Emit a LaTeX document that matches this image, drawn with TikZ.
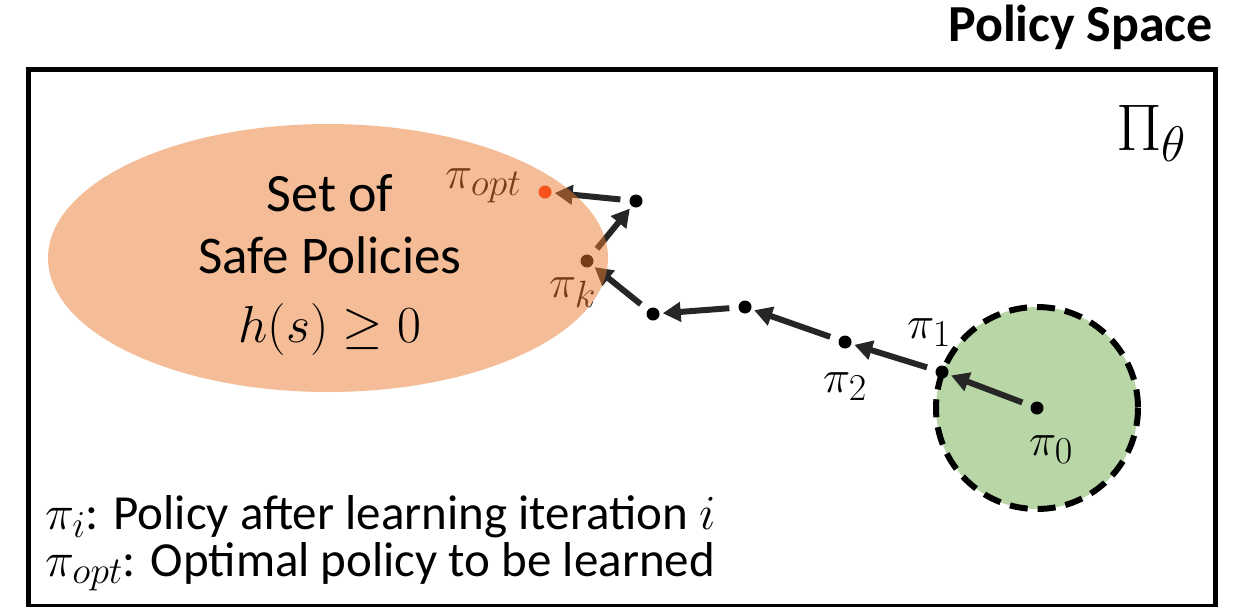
\RequirePackage{fix-cm}
\documentclass[tikz,border=0pt]{standalone}
\usepackage{fontspec}
\setmainfont{Carlito}
\usetikzlibrary{arrows.meta}
\DeclareMathSizes{46}{46}{38}{28}
\DeclareMathSizes{49}{49}{38}{30}
\DeclareMathSizes{52}{52}{40}{31}
\DeclareMathSizes{66}{66}{50}{38}
\definecolor{safeor}{RGB}{237,125,49}
\definecolor{regreen}{RGB}{184,214,166}
\definecolor{arrgray}{RGB}{38,38,38}
\definecolor{optred}{RGB}{255,40,10}
\begin{document}
\begin{tikzpicture}[x=1pt,y=-1pt,
  dot/.style={circle,fill=black,inner sep=0pt,minimum size=13pt},
  arr/.style={draw=arrgray,line width=6pt,-{Triangle[length=18pt,width=19pt]},shorten <=9pt,shorten >=3pt},
  lbl/.style={inner sep=0pt,anchor=base west,font=\fontsize{46}{54}\selectfont},
  big/.style={inner sep=0pt,anchor=base,font=\fontsize{54}{64}\selectfont},
  legend/.style={inner sep=0pt,anchor=base west,font=\fontsize{49}{58}\selectfont}]
\useasboundingbox (0,0) rectangle (1235,606);
\fill[white] (0,0) rectangle (1235,606);
% title and frame
\node[inner sep=0pt,anchor=base east,font=\bfseries\fontsize{52}{62}\selectfont] (title) at (1213,41) {Policy Space};
\draw[line width=5pt] (28,69) rectangle (1215,606);
\node[inner sep=0pt,anchor=base west,font=\fontsize{66}{76}\selectfont] (space) at (1116,150) {$\Pi_\theta$};
% green initial region
\path[fill=regreen,draw=black,line width=6pt,dash pattern=on 18pt off 10pt] (1037,408) circle[radius=101];
% policy points
\node[dot] (p0) at (1037,408) {};
\node[dot] (p1) at (942,372) {};
\node[dot] (p2) at (845,342) {};
\node[dot] (p3) at (745,307) {};
\node[dot] (p4) at (653,314) {};
\node[dot] (pk) at (587,261) {};
\node[dot] (p6) at (636,201) {};
\node[dot,fill=optred] (popt) at (545,192) {};
% arrows
\draw[arr] (p0) -- (p1);
\draw[arr] (p1) -- (p2);
\draw[arr] (p2) -- (p3);
\draw[arr] (p3) -- (p4);
\draw[arr] (p4) -- (pk);
\draw[arr] (pk) -- (p6);
\draw[arr] (p6) -- (popt);
% labels
\node[lbl] (lopt) at (445,188) {$\pi_{opt}$};
\node[lbl] (lk) at (549,297) {$\pi_k$};
\node[lbl] (l1) at (907,338) {$\pi_1$};
\node[lbl] (l2) at (823,392) {$\pi_2$};
\node[lbl] (l0) at (1029,455) {$\pi_0$};
% safe set (semi-transparent, over the path)
\path[fill=safeor,fill opacity=0.5] (328,258) ellipse[x radius=280,y radius=134];
\node[big] (t1) at (330,211) {Set of};
\node[big,font=\fontsize{53}{64}\selectfont] (t2) at (330,273) {Safe Policies};
\node[big,font=\fontsize{52}{60}\selectfont] (t3) at (330,342) {$h(s)\geq 0$};
% legend
\node[legend] (g1) at (45,529) {$\pi_i$: Policy after learning iteration $i$};
\node[legend] (g2) at (45,576) {$\pi_{opt}$: Optimal policy to be learned};
\end{tikzpicture}
\end{document}
